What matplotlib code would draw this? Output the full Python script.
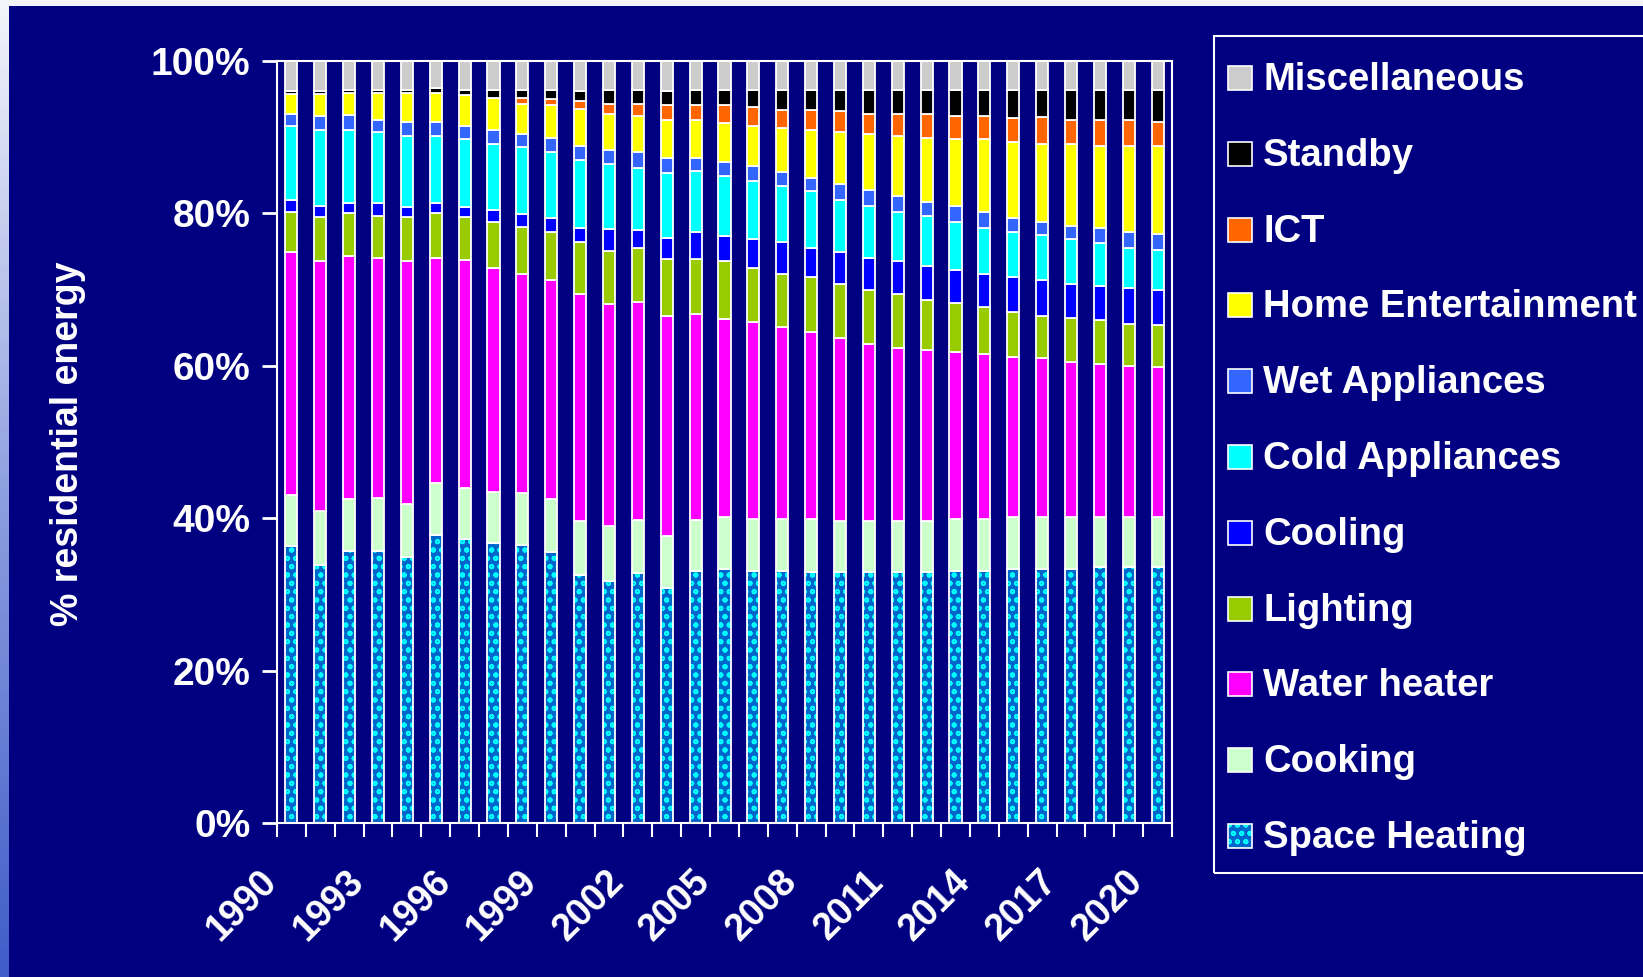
import numpy as np
import matplotlib
import matplotlib.pyplot as plt
from matplotlib.patches import Rectangle
from matplotlib.colors import LinearSegmentedColormap
from matplotlib.transforms import ScaledTranslation

plt.rcParams['font.family'] = ['Liberation Sans', 'DejaVu Sans']
plt.rcParams['hatch.linewidth'] = 1.3

years = list(range(1990, 2021))
tick_years = years[::3]

# shares of residential energy (%), bottom to top of each bar
space_heating = [36.3, 33.9, 35.7, 35.7, 34.9, 37.8, 37.3, 36.8, 36.5, 35.5, 32.6, 31.8, 32.8, 30.8, 33.1, 33.3,
                 33.1, 33.1, 32.9, 32.9, 32.9, 32.9, 32.9, 33.1, 33.1, 33.3, 33.3, 33.3, 33.6, 33.6, 33.6]
cooking = [6.7, 7.0, 6.8, 7.0, 7.0, 6.8, 6.7, 6.7, 6.8, 7.0, 7.0, 7.2, 7.0, 6.9, 6.7, 6.8,
           6.8, 6.8, 7.0, 6.7, 6.7, 6.7, 6.7, 6.8, 6.8, 6.8, 6.8, 6.8, 6.5, 6.5, 6.5]
water_heater = [31.9, 32.8, 31.9, 31.4, 31.8, 29.5, 29.9, 29.4, 28.7, 28.8, 29.8, 29.1, 28.6, 28.8, 27.0, 26.1,
                25.9, 25.2, 24.6, 24.0, 23.3, 22.7, 22.5, 21.9, 21.6, 21.1, 20.9, 20.4, 20.1, 19.9, 19.7]
lighting = [5.3, 5.8, 5.6, 5.6, 5.8, 5.9, 5.6, 6.0, 6.2, 6.3, 6.9, 6.9, 7.1, 7.5, 7.2, 7.5,
            7.1, 7.0, 7.1, 7.1, 7.1, 7.1, 6.6, 6.4, 6.2, 5.9, 5.6, 5.8, 5.8, 5.5, 5.5]
cooling = [1.6, 1.5, 1.3, 1.6, 1.3, 1.3, 1.3, 1.5, 1.7, 1.8, 1.8, 3.0, 2.3, 2.8, 3.6, 3.3,
           3.8, 4.1, 3.9, 4.2, 4.1, 4.3, 4.4, 4.4, 4.3, 4.5, 4.7, 4.4, 4.5, 4.7, 4.6]
cold_appl = [9.7, 10.0, 9.7, 9.4, 9.4, 8.9, 8.9, 8.7, 8.8, 8.7, 8.9, 8.5, 8.2, 8.5, 7.9, 7.9,
             7.5, 7.4, 7.4, 6.9, 6.9, 6.5, 6.6, 6.3, 6.1, 6.0, 5.8, 5.9, 5.6, 5.3, 5.3]
wet_appl = [1.5, 1.8, 1.9, 1.6, 1.8, 1.8, 1.8, 1.8, 1.7, 1.8, 1.8, 1.8, 2.1, 2.0, 1.8, 1.9,
            2.0, 1.8, 1.7, 2.1, 2.1, 2.1, 1.8, 2.1, 2.1, 1.8, 1.8, 1.8, 2.0, 2.0, 2.1]
home_ent = [2.7, 2.9, 2.9, 3.5, 3.8, 3.8, 4.0, 4.3, 4.0, 4.3, 4.9, 4.8, 4.7, 5.0, 5.0, 5.0,
            5.3, 5.8, 6.3, 6.8, 7.3, 7.8, 8.4, 8.7, 9.5, 10.0, 10.2, 10.7, 10.7, 11.3, 11.5]
ict = [0, 0, 0, 0, 0, 0, 0, 0, 0.8, 0.8, 1.0, 1.3, 1.6, 1.9, 1.9, 2.4,
       2.4, 2.4, 2.7, 2.7, 2.6, 2.9, 3.1, 3.1, 3.1, 3.1, 3.5, 3.2, 3.5, 3.5, 3.2]
standby = [0.3, 0.3, 0.4, 0.4, 0.4, 0.6, 0.7, 1.0, 1.0, 1.2, 1.3, 1.8, 1.8, 1.8, 2.0, 2.0,
           2.3, 2.6, 2.6, 2.8, 3.2, 3.2, 3.2, 3.4, 3.4, 3.7, 3.6, 3.9, 3.9, 3.9, 4.2]
misc = [4.0, 4.0, 3.8, 3.8, 3.8, 3.6, 3.8, 3.8, 3.8, 3.8, 4.0, 3.8, 3.8, 4.0, 3.8, 3.8,
        3.8, 3.8, 3.8, 3.8, 3.8, 3.8, 3.8, 3.8, 3.8, 3.8, 3.8, 3.8, 3.8, 3.8, 3.8]

labels = ['Space Heating', 'Cooking', 'Water heater', 'Lighting', 'Cooling', 'Cold Appliances',
          'Wet Appliances', 'Home Entertainment', 'ICT', 'Standby', 'Miscellaneous']
series = [space_heating, cooking, water_heater, lighting, cooling, cold_appl,
          wet_appl, home_ent, ict, standby, misc]
colors = ['#0066cc', '#ccffcc', '#ff00ff', '#99cc00', '#0000ff', '#00ffff',
          '#3366ff', '#ffff00', '#ff6600', '#000000', '#cccccc']

navy = '#000080'
W, H = 1643, 977

fig = plt.figure(figsize=(W / 100, H / 100), dpi=100)

# slide background: light gradient border, navy panel
bg = fig.add_axes([0, 0, 1, 1], zorder=-10)
grad = np.linspace(0, 1, 256).reshape(-1, 1)
bg.imshow(grad, aspect='auto', extent=[0, 1, 0, 1], origin='upper',
          cmap=LinearSegmentedColormap.from_list('edge', ['#f4f5fb', '#8fa0e0', '#3f5cc8']))
bg.add_patch(Rectangle((9 / W, 0), 1, 1 - 6 / H, color=navy, lw=0))
bg.set_xlim(0, 1)
bg.set_ylim(0, 1)
bg.axis('off')

ax = fig.add_axes([277 / W, 1 - 823 / H, (1172 - 277) / W, (823 - 61) / H])
ax.set_facecolor(navy)

x = np.arange(len(years))
data = np.array(series, dtype=float)
data = data / data.sum(axis=0) * 100
bottoms = np.vstack([np.zeros(len(years)), np.cumsum(data, axis=0)[:-1]])
bw = 0.42

for k, (lab, col) in enumerate(zip(labels, colors)):
    if k == 0:
        # dotted fill: blue base with cyan specks, white outline on top
        ax.bar(x, data[k], bw, bottom=bottoms[k], color=col, edgecolor='#00ffff',
               hatch='oo', linewidth=0)
        ax.bar(x, data[k], bw, bottom=bottoms[k], fill=False, edgecolor='white', linewidth=1.3)
    else:
        ax.bar(x, data[k], bw, bottom=bottoms[k], color=col, edgecolor='white', linewidth=1.3)

ax.set_xlim(-0.5, len(years) - 0.5)
ax.set_ylim(0, 100)
for sp in ax.spines.values():
    sp.set_color('white')
    sp.set_linewidth(1.5)

ax.set_yticks(np.arange(0, 101, 20))
ax.set_yticklabels([f'{v}%' for v in range(0, 101, 20)], fontsize=28, fontweight='bold', color='white')
ax.tick_params(axis='y', colors='white', length=11, width=2, pad=8)

tick_pos = [years.index(y) for y in tick_years]
ax.set_xticks(tick_pos)
ax.set_xticklabels([str(y) for y in tick_years], rotation=45, ha='right', va='top',
                   fontsize=27, fontweight='bold', color='white')
ax.set_xticks(np.arange(-0.5, len(years)), minor=True)
ax.tick_params(axis='x', which='major', length=0, pad=29)
ax.tick_params(axis='x', which='minor', colors='white', length=10, width=1.5)
shift = ScaledTranslation(-7 / 100, 0, fig.dpi_scale_trans)
for t in ax.get_xticklabels():
    t.set_transform(t.get_transform() + shift)

fig.text(68 / W, 1 - 444 / H, '% residential energy', rotation=90, ha='center', va='center',
         fontsize=27, fontweight='bold', color='white')

# legend box (top entry = top of stack)
fig.patches.append(Rectangle((1214 / W, 1 - 873 / H), 0.5, (873 - 36) / H, transform=fig.transFigure,
                             fill=False, edgecolor='white', linewidth=1.5))
for i, k in enumerate(range(len(labels) - 1, -1, -1)):
    yc = 78 + i * 75.8
    kw = dict(facecolor=colors[k], edgecolor='white', linewidth=1.2)
    if k == 0:
        fig.patches.append(Rectangle((1228 / W, 1 - (yc + 12) / H), 24 / W, 24 / H, transform=fig.transFigure,
                                     facecolor=colors[k], edgecolor='#00ffff', hatch='oo', linewidth=0))
        kw = dict(fill=False, edgecolor='white', linewidth=1.2)
    fig.patches.append(Rectangle((1228 / W, 1 - (yc + 12) / H), 24 / W, 24 / H, transform=fig.transFigure, **kw))
    fig.text(1263 / W, 1 - (yc + 2) / H, labels[k], ha='left', va='center', fontsize=27.5,
             fontweight='bold', color='white')

fig.savefig('out.png', dpi=100, facecolor=fig.get_facecolor())
